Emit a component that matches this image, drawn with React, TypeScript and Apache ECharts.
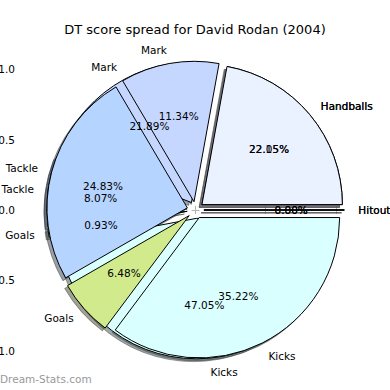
import React, { useEffect, useRef } from "react";
import * as echarts from "echarts";

const chartTitle = "DT score spread for David Rodan (2004)";
const watermark = "Dream-Stats.com";
const categories = ["Handballs", "Mark", "Tackle", "Goals", "Kicks", "Hitout"];
const sliceColors = ["#eaf1ff", "#c5d6ff", "#b5d4ff", "#d1ea8b", "#d9ffff", "#eeeeff"];
// back pie (drawn first)
const backPct = [22.05, 21.89, 8.07, 0.93, 47.05, 0.0];
// front pie (drawn on top)
const frontPct = [22.15, 11.34, 24.83, 6.48, 35.22, 0.0];
const tickValues = [-1, -0.5, 0, 0.5, 1];

const FONT = "DejaVu Sans";

function hexToRgb(h: string) {
  const n = parseInt(h.slice(1), 16);
  return [(n >> 16) & 255, (n >> 8) & 255, n & 255];
}
function shadowOf(h: string) {
  const [r, g, b] = hexToRgb(h);
  return `rgba(${Math.round(r * 0.3)},${Math.round(g * 0.3)},${Math.round(b * 0.3)},0.5)`;
}

export default function App() {
  const ref = useRef<HTMLDivElement>(null);
  useEffect(() => {
    if (!ref.current) return;
    const chart = echarts.init(ref.current, null, { renderer: "svg" });

    const gridL = 20, gridR = 19, gridT = 34, gridB = 4;
    const W = 390, H = 390;
    const lim = 1.25;
    const plotW = W - gridL - gridR;
    const scale = plotW / (2 * lim);
    const cx = gridL + plotW / 2;
    const cy = gridT + (H - gridT - gridB) / 2;
    const R = scale;
    const explode = 0.06 * R;
    const sh = 0.02 * R;

    const mkData = (vals: number[], colorFn: (c: string) => string, border: (c: string) => string) =>
      vals.map((v, i) => ({
        name: categories[i],
        value: v,
        selected: true,
        itemStyle: { color: colorFn(sliceColors[i]), borderColor: border(sliceColors[i]) },
      }));

    const common = {
      type: "pie",
      startAngle: 0,
      clockwise: false,
      selectedMode: "multiple",
      selectedOffset: explode,
      avoidLabelOverlap: false,
      silent: true,
      emphasis: { disabled: true },
      minShowLabelAngle: 0,
      labelLayout: { hideOverlap: false },
    };

    const shadowSeries = (vals: number[]) => ({
      ...common,
      z: 1,
      center: [cx - sh, cy + sh],
      radius: [0, R],
      label: { show: false },
      labelLine: { show: false },
      itemStyle: { borderWidth: 1 },
      data: mkData(vals, shadowOf, shadowOf),
    });

    const mainSeries = (vals: number[], z: number) => ({
      ...common,
      z,
      center: [cx, cy],
      radius: [0, R],
      label: {
        show: true,
        position: "outside",
        formatter: "{b}",
        color: "#000",
        fontSize: 10.5,
        fontFamily: FONT,
        distanceToLabelLine: 0,
      },
      labelLine: { show: false, length: 0.1 * R, length2: 0 },
      itemStyle: { borderWidth: 1 },
      data: mkData(vals, (c) => c, () => "#000"),
    });

    const pctSeries = (vals: number[], z: number) => ({
      ...common,
      z,
      center: [cx, cy],
      radius: [0, 1.2 * R],
      label: {
        show: true,
        position: "inside",
        formatter: (p: any) => p.value.toFixed(2) + "%",
        color: "#000",
        fontSize: 10.5,
        fontFamily: FONT,
      },
      labelLine: { show: false },
      itemStyle: { borderWidth: 0 },
      data: vals.map((v, i) => ({
        name: categories[i],
        value: v,
        selected: true,
        itemStyle: { color: "rgba(0,0,0,0)" },
      })),
    });

    const tickFmt = (v: number) =>
      tickValues.some((t) => Math.abs(t - v) < 1e-9) ? v.toFixed(1) : "";

    const axisBase = {
      type: "value",
      min: -lim,
      max: lim,
      axisLine: { show: false },
      splitLine: { show: false },
      axisTick: {
        show: true,
        inside: true,
        length: 4,
        lineStyle: { color: "#b4b4b4", width: 1 },
        customValues: tickValues,
      },
    };
    const labelStyle = {
      customValues: tickValues,
      formatter: tickFmt,
      color: "#000",
      fontSize: 10.5,
      fontFamily: FONT,
    };

    chart.setOption({
      animation: false,
      backgroundColor: "#fff",
      title: {
        text: chartTitle,
        left: "center",
        top: 18,
        textStyle: { fontSize: 13, fontWeight: "normal", color: "#000", fontFamily: FONT },
      },
      grid: {
        left: gridL,
        right: gridR,
        top: gridT,
        bottom: gridB,
        containLabel: false,
        outerBoundsMode: "none",
      },
      xAxis: [
        { ...axisBase, position: "bottom", axisLabel: { ...labelStyle, margin: 2 } },
        { ...axisBase, position: "top", axisLabel: { show: false } },
      ],
      yAxis: [
        { ...axisBase, position: "left", axisLabel: { ...labelStyle, margin: 5 } },
        { ...axisBase, position: "right", axisLabel: { show: false } },
      ],
      graphic: [
        {
          type: "text",
          left: 0,
          top: 373,
          style: { text: watermark, fill: "#999", font: `10.5px "${FONT}"` },
        },
      ],
      series: [
        shadowSeries(backPct),
        shadowSeries(frontPct),
        mainSeries(backPct, 2),
        mainSeries(frontPct, 3),
        pctSeries(backPct, 4),
        pctSeries(frontPct, 4),
      ],
    });
    return () => chart.dispose();
  }, []);
  return (
    <div
      ref={ref}
      style={{ position: "fixed", left: 0, top: 0, width: 390, height: 390, background: "#fff" }}
    />
  );
}
